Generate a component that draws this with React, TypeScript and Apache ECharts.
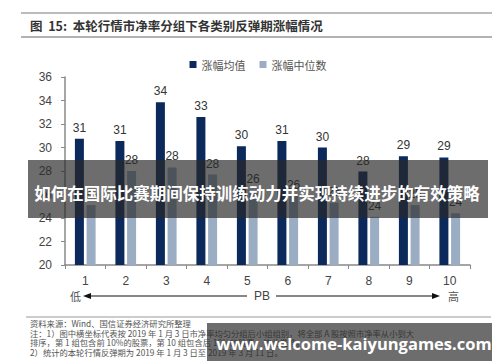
import React, { useEffect, useRef } from "react";
import * as echarts from "echarts";

const categories = ["1", "2", "3", "4", "5", "6", "7", "8", "9", "10"];
const meanValues = [30.75, 30.55, 33.85, 32.6, 30.1, 30.55, 30.0, 27.95, 29.25, 29.15];
const medianValues = [25.1, 28.0, 28.3, 27.7, 26.4, 25.9, 25.3, 24.1, 25.1, 24.4];
const seriesNames = ["涨幅均值", "涨幅中位数"];
const yTicks = { min: 20, max: 36, interval: 2 };

const titleText = "图  15:  本轮行情市净率分组下各类别反弹期涨幅情况";
const notes = [
  "资料来源：Wind、国信证券经济研究所整理",
  "注：1）图中横坐标代表按 2019 年 1 月 3 日市净率均匀分组后小组组别，将全部 A 股按照市净率从小到大",
  "排序，第 1 组包含前 10%的股票，第 10 组包含后 10%的股票，依此类推。",
  "2）统计的本轮行情反弹期为 2019 年 1 月 3 日至 2019 年 3 月 11 日。",
];
const overlayText1 = "如何在国际比赛期间保持训练动力并实现持续进步的有效策略";
const overlayText2 = "www.welcome-kaiyungames.com";

export default function App() {
  const ref = useRef<HTMLDivElement>(null);
  useEffect(() => {
    if (!ref.current) return;
    const chart = echarts.init(ref.current, null, { renderer: "svg" });
    const cjk = '"Noto Sans CJK SC", sans-serif';
    const num = '"Liberation Sans", Arial, sans-serif';
    chart.setOption({
      animation: false,
      backgroundColor: "#ffffff",
      legend: {
        top: 46,
        left: "center",
        icon: "rect",
        itemWidth: 7,
        itemHeight: 7,
        itemGap: 14,
        textStyle: { fontFamily: cjk, fontSize: 11, color: "#555" },
        data: seriesNames,
      },
      grid: { left: 57, right: 38, top: 69, bottom: 105, containLabel: false },
      xAxis: {
        type: "category",
        data: categories,
        axisLine: { lineStyle: { color: "#888", width: 1.5 } },
        axisTick: { show: true, length: 4, lineStyle: { color: "#888" } },
        axisLabel: { fontFamily: num, fontSize: 12, color: "#444", margin: 10 },
      },
      yAxis: {
        type: "value",
        min: yTicks.min,
        max: yTicks.max,
        interval: yTicks.interval,
        axisLine: { show: true, lineStyle: { color: "#888", width: 1.5 } },
        axisTick: { show: true, length: 4, lineStyle: { color: "#888" } },
        splitLine: { show: false },
        axisLabel: { fontFamily: num, fontSize: 12, color: "#444", margin: 13 },
      },
      series: [
        {
          name: seriesNames[0],
          type: "bar",
          data: meanValues,
          barWidth: 9,
          barGap: "30%",
          itemStyle: { color: "#0b2a5b" },
          label: {
            show: true,
            position: "top",
            distance: 5,
            fontFamily: num,
            fontSize: 12,
            color: "#333",
            formatter: (p: any) => String(Math.round(p.value)),
          },
        },
        {
          name: seriesNames[1],
          type: "bar",
          data: medianValues,
          barWidth: 9,
          barGap: "30%",
          itemStyle: { color: "#9aadc3" },
          label: {
            show: true,
            position: "top",
            distance: 5,
            fontFamily: num,
            fontSize: 12,
            color: "#333",
            formatter: (p: any) => String(Math.round(p.value)),
          },
        },
      ],
      graphic: [
        { type: "line", shape: { x1: 13, y1: 5, x2: 484, y2: 5 }, style: { stroke: "#bbb", lineWidth: 2 } },
        {
          type: "text",
          x: 22,
          y: 17,
          style: { text: titleText, fontFamily: cjk, fontSize: 12.5, fontWeight: "bold", fill: "#333", textVerticalAlign: "middle" },
        },
        { type: "line", shape: { x1: 13, y1: 29, x2: 484, y2: 29 }, style: { stroke: "#999", lineWidth: 1.5 } },
        // PB arrow row
        { type: "text", x: 62, y: 288, style: { text: "低", fontFamily: cjk, fontSize: 11, fill: "#555", textVerticalAlign: "middle" } },
        { type: "polygon", shape: { points: [[75, 288], [83, 285], [83, 291]] }, style: { fill: "#111" } },
        { type: "line", shape: { x1: 82, y1: 288, x2: 239, y2: 288 }, style: { stroke: "#111", lineWidth: 1.2 } },
        { type: "text", x: 254, y: 288, style: { text: "PB", fontFamily: num, fontSize: 12, fill: "#444", textAlign: "center", textVerticalAlign: "middle" } },
        { type: "line", shape: { x1: 268, y1: 288, x2: 425, y2: 288 }, style: { stroke: "#111", lineWidth: 1.2 } },
        { type: "polygon", shape: { points: [[432, 288], [424, 285], [424, 291]] }, style: { fill: "#111" } },
        { type: "text", x: 440, y: 288, style: { text: "高", fontFamily: cjk, fontSize: 11, fill: "#555", textVerticalAlign: "middle" } },
        { type: "line", shape: { x1: 18, y1: 309, x2: 483, y2: 309 }, style: { stroke: "#999", lineWidth: 1 } },
        ...notes.map((t, i) => ({
          type: "text",
          x: 22,
          y: 315 + i * 9.7,
          style: { text: t, fontFamily: cjk, fontSize: 8.3, fill: "#555", textVerticalAlign: "middle" },
        })),
        // overlays
        {
          type: "rect",
          z: 100,
          shape: { x: 20, y: 152, width: 460, height: 58 },
          style: { fill: "rgba(40,40,40,0.68)" },
        },
        {
          type: "text",
          z: 101,
          x: 249,
          y: 185,
          style: { text: overlayText1, fontFamily: cjk, fontSize: 16.5, fontWeight: "bold", fill: "#ffffff", textAlign: "center", textVerticalAlign: "middle" },
        },
        {
          type: "rect",
          z: 100,
          shape: { x: 199, y: 315, width: 291, height: 38 },
          style: { fill: "rgba(40,40,40,0.68)" },
        },
        {
          type: "text",
          z: 101,
          x: 346,
          y: 335,
          style: { text: overlayText2, fontFamily: '"Open Sans", "Noto Sans", sans-serif', fontSize: 16.5, fontWeight: "bold", fill: "#ffffff", textAlign: "center", textVerticalAlign: "middle" },
        },
      ],
    });
    return () => chart.dispose();
  }, []);
  return <div ref={ref} style={{ width: 500, height: 362 }} />;
}
